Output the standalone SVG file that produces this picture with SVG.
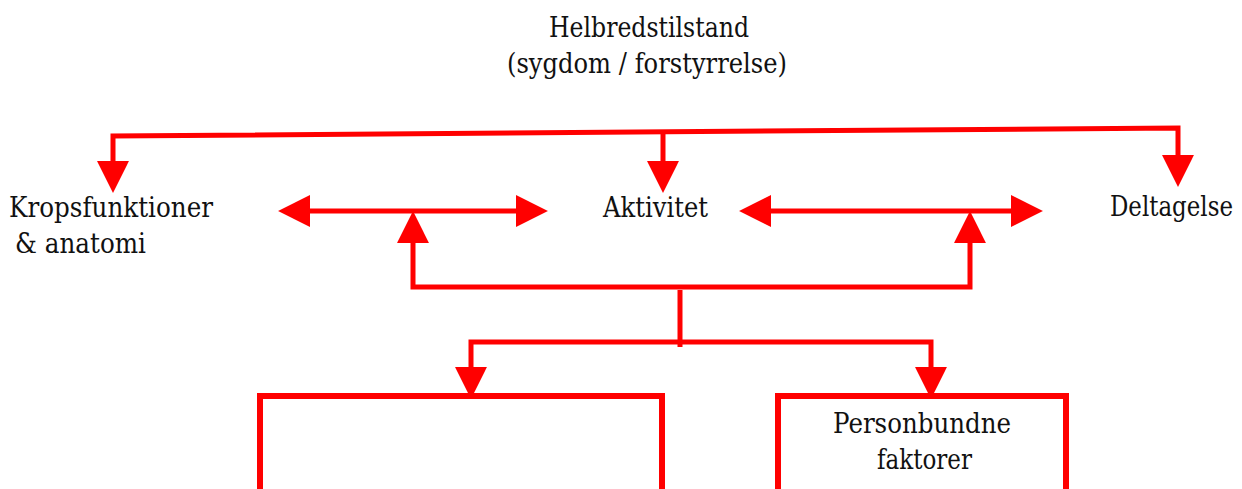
<svg xmlns="http://www.w3.org/2000/svg" width="1242" height="489" viewBox="0 0 1242 489">
<style>
.t{font-family:'DejaVu Serif','Liberation Serif',serif;font-size:27px;fill:#111;}
.c{fill:none;stroke:#ff0000;stroke-width:5;stroke-linejoin:miter;}
.box{fill:#fff;stroke:#ff0000;stroke-width:6;}
</style>
<defs>
<marker id="ah" markerUnits="userSpaceOnUse" markerWidth="32" markerHeight="32" viewBox="0 0 30 30" refX="1" refY="15" orient="auto-start-reverse">
<path d="M0,0 L30,15 L0,30 z" fill="#ff0000"/>
</marker>
</defs>
<rect width="1242" height="489" fill="#fff"/>
<g id="connectors">
<path class="c" d="M113,162 L113,136 L1178,128 L1178,156" marker-start="url(#ah)" marker-end="url(#ah)"/>
<path class="c" d="M663,132 L663,162" marker-end="url(#ah)"/>
<path class="c" d="M309,211 L517,211" marker-start="url(#ah)" marker-end="url(#ah)"/>
<path class="c" d="M770,211 L1012,211" marker-start="url(#ah)" marker-end="url(#ah)"/>
<path class="c" d="M413,242 L413,287 L970,287 L970,242" marker-start="url(#ah)" marker-end="url(#ah)"/>
<path class="c" d="M680,290 L680,347"/>
<path class="c" d="M471,368 L471,342 L931,342 L931,368" marker-start="url(#ah)" marker-end="url(#ah)"/>
</g>
<g id="helbred">
<text class="t" x="549" y="37" textLength="200" lengthAdjust="spacingAndGlyphs">Helbredstilstand</text>
<text class="t" x="507" y="73" textLength="280" lengthAdjust="spacingAndGlyphs">(sygdom / forstyrrelse)</text>
</g>
<g id="krop">
<text class="t" x="9" y="217" textLength="204" lengthAdjust="spacingAndGlyphs">Kropsfunktioner</text>
<text class="t" x="15" y="253" textLength="131" lengthAdjust="spacingAndGlyphs">&amp; anatomi</text>
</g>
<g id="aktivitet">
<text class="t" x="603" y="217" textLength="105" lengthAdjust="spacingAndGlyphs">Aktivitet</text>
</g>
<g id="deltagelse">
<text class="t" x="1110" y="216" textLength="123" lengthAdjust="spacingAndGlyphs">Deltagelse</text>
</g>
<g id="omgivelse">
<rect class="box" x="260" y="396" width="402" height="100"/>
</g>
<g id="personbundne">
<rect class="box" x="778" y="396" width="288" height="100"/>
<text class="t" x="833" y="433" textLength="178" lengthAdjust="spacingAndGlyphs">Personbundne</text>
<text class="t" x="877" y="469" textLength="95" lengthAdjust="spacingAndGlyphs">faktorer</text>
</g>
</svg>
